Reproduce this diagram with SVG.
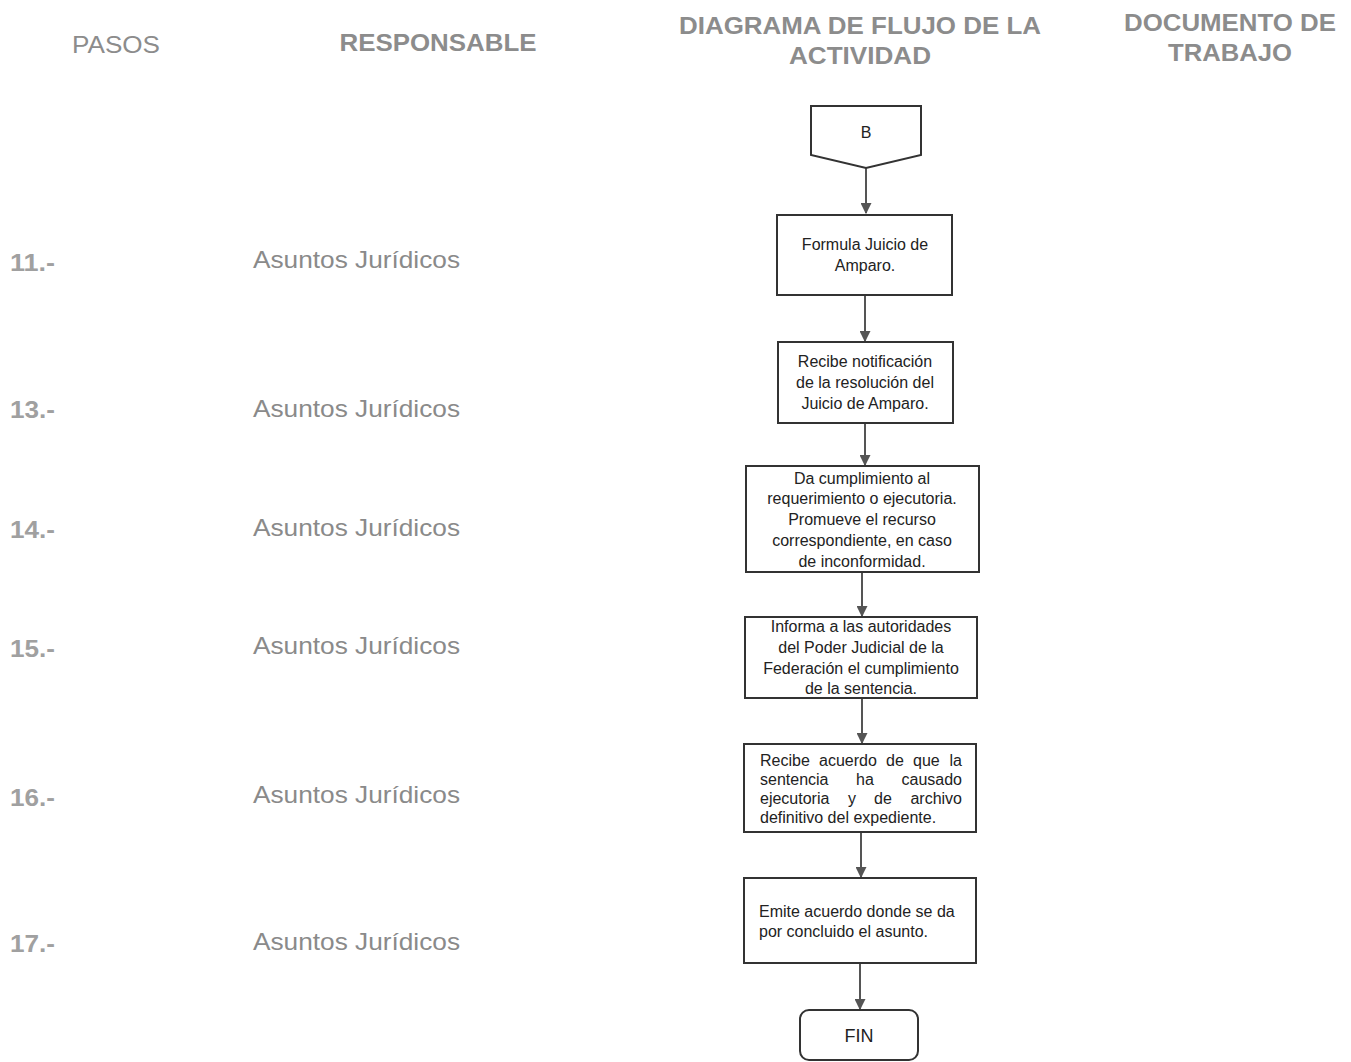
<svg xmlns="http://www.w3.org/2000/svg" width="1351" height="1062" viewBox="0 0 1351 1062">
<style>
.hdr{font-family:"Liberation Sans",Arial,sans-serif;font-size:24px;fill:#8c8c8c;text-anchor:middle}
.b{font-weight:bold}
.step{font-family:"Liberation Sans",Arial,sans-serif;font-size:23px;font-weight:bold;fill:#a0a0a0}
.resp{font-family:"Liberation Sans",Arial,sans-serif;font-size:24px;fill:#8a8a8a}
.box{fill:#fff;stroke:#333;stroke-width:2}
.t{font-family:"Liberation Sans",Arial,sans-serif;font-size:16px;fill:#222;text-anchor:middle}
.tl{font-family:"Liberation Sans",Arial,sans-serif;font-size:16px;fill:#222}
.e{text-anchor:end}
.c{stroke:#555;stroke-width:2;fill:none;marker-end:url(#ah)}
</style>
<defs>
<marker id="ah" viewBox="0 0 10 10" refX="9" refY="5" markerWidth="5.5" markerHeight="5.5" orient="auto" markerUnits="strokeWidth">
<path d="M0,0 L10,5 L0,10 z" fill="#555"/>
</marker>
</defs>
<rect width="1351" height="1062" fill="#fff"/>
<g id="headers">
<text class="hdr" x="116" y="53" textLength="88" lengthAdjust="spacingAndGlyphs">PASOS</text>
<text class="hdr b" x="438" y="51" textLength="197" lengthAdjust="spacingAndGlyphs">RESPONSABLE</text>
<text class="hdr b" x="860" y="34" textLength="362" lengthAdjust="spacingAndGlyphs">DIAGRAMA DE FLUJO DE LA</text>
<text class="hdr b" x="860" y="64" textLength="142" lengthAdjust="spacingAndGlyphs">ACTIVIDAD</text>
<text class="hdr b" x="1230" y="31" textLength="212" lengthAdjust="spacingAndGlyphs">DOCUMENTO DE</text>
<text class="hdr b" x="1230" y="61" textLength="124" lengthAdjust="spacingAndGlyphs">TRABAJO</text>
</g>
<g id="rows">
<text class="step" x="10" y="271" textLength="45" lengthAdjust="spacingAndGlyphs">11.-</text>
<text class="resp" x="253" y="268" textLength="207" lengthAdjust="spacingAndGlyphs">Asuntos Jurídicos</text>
<text class="step" x="10" y="418" textLength="45" lengthAdjust="spacingAndGlyphs">13.-</text>
<text class="resp" x="253" y="417" textLength="207" lengthAdjust="spacingAndGlyphs">Asuntos Jurídicos</text>
<text class="step" x="10" y="538" textLength="45" lengthAdjust="spacingAndGlyphs">14.-</text>
<text class="resp" x="253" y="536" textLength="207" lengthAdjust="spacingAndGlyphs">Asuntos Jurídicos</text>
<text class="step" x="10" y="657" textLength="45" lengthAdjust="spacingAndGlyphs">15.-</text>
<text class="resp" x="253" y="654" textLength="207" lengthAdjust="spacingAndGlyphs">Asuntos Jurídicos</text>
<text class="step" x="10" y="806" textLength="45" lengthAdjust="spacingAndGlyphs">16.-</text>
<text class="resp" x="253" y="803" textLength="207" lengthAdjust="spacingAndGlyphs">Asuntos Jurídicos</text>
<text class="step" x="10" y="952" textLength="45" lengthAdjust="spacingAndGlyphs">17.-</text>
<text class="resp" x="253" y="950" textLength="207" lengthAdjust="spacingAndGlyphs">Asuntos Jurídicos</text>
</g>
<g id="connectors">
<line class="c" x1="866" y1="168" x2="866" y2="213"/>
<line class="c" x1="865" y1="296" x2="865" y2="341"/>
<line class="c" x1="865" y1="424" x2="865" y2="465"/>
<line class="c" x1="862" y1="573" x2="862" y2="616"/>
<line class="c" x1="862" y1="699" x2="862" y2="743"/>
<line class="c" x1="861" y1="833" x2="861" y2="877"/>
<line class="c" x1="860" y1="964" x2="860" y2="1009"/>
</g>
<g id="nB">
<path class="box" d="M811,106 H921 V155 L866,168 L811,155 Z"/>
<text class="t" x="866" y="138">B</text>
</g>
<g id="n11">
<rect class="box" x="777" y="215" width="175" height="80"/>
<text class="t" x="865" y="250">Formula Juicio de</text>
<text class="t" x="865" y="271">Amparo.</text>
</g>
<g id="n13">
<rect class="box" x="778" y="342" width="175" height="81"/>
<text class="t" x="865" y="367">Recibe notificación</text>
<text class="t" x="865" y="388">de la resolución del</text>
<text class="t" x="865" y="409">Juicio de Amparo.</text>
</g>
<g id="n14">
<rect class="box" x="746" y="466" width="233" height="106"/>
<text class="t" x="862" y="484">Da cumplimiento al</text>
<text class="t" x="862" y="504">requerimiento o ejecutoria.</text>
<text class="t" x="862" y="525">Promueve el recurso</text>
<text class="t" x="862" y="546">correspondiente, en caso</text>
<text class="t" x="862" y="567">de inconformidad.</text>
</g>
<g id="n15">
<rect class="box" x="745" y="617" width="232" height="81"/>
<text class="t" x="861" y="632">Informa a las autoridades</text>
<text class="t" x="861" y="653">del Poder Judicial de la</text>
<text class="t" x="861" y="674">Federación el cumplimiento</text>
<text class="t" x="861" y="694">de la sentencia.</text>
</g>
<g id="n16">
<rect class="box" x="744" y="744" width="232" height="88"/>
<text class="tl" y="766"><tspan x="760">Recibe</tspan><tspan x="819">acuerdo</tspan><tspan x="886">de</tspan><tspan x="913">que</tspan></text>
<text class="tl e" x="962" y="766">la</text>
<text class="tl" y="785"><tspan x="760">sentencia</tspan><tspan x="856">ha</tspan></text>
<text class="tl e" x="962" y="785">causado</text>
<text class="tl" y="804"><tspan x="760">ejecutoria</tspan><tspan x="848">y</tspan><tspan x="874">de</tspan></text>
<text class="tl e" x="962" y="804">archivo</text>
<text class="tl" x="760" y="823">definitivo del expediente.</text>
</g>
<g id="n17">
<rect class="box" x="744" y="878" width="232" height="85"/>
<text class="tl" x="759" y="917">Emite acuerdo donde se da</text>
<text class="tl" x="759" y="937">por concluido el asunto.</text>
</g>
<g id="nFIN">
<rect class="box" x="800" y="1010" width="118" height="50" rx="9"/>
<text class="t" x="859" y="1042" style="font-size:18px">FIN</text>
</g>
</svg>
